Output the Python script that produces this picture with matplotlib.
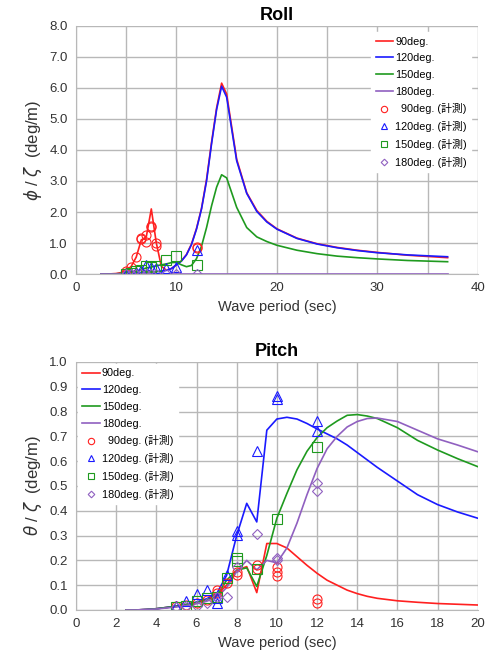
import matplotlib
matplotlib.use('Agg')
from matplotlib import pyplot as plt
from matplotlib.ticker import MultipleLocator, FormatStrFormatter

plt.rcParams['font.family'] = ['Liberation Sans', 'Noto Sans CJK JP', 'DejaVu Sans']

# ---- Roll: calculated curves ----
roll_t = [2.5, 3, 3.5, 4, 4.5, 5, 5.5, 6, 6.5, 7, 7.5, 8, 8.5, 9, 9.5, 10, 10.5, 11, 11.5,
          12, 12.5, 13, 13.5, 14, 14.5, 15, 16, 17, 18, 19, 20, 22, 24, 26, 28, 30, 33, 37]
roll_90 = [0.0, 0.0, 0.01, 0.02, 0.05, 0.12, 0.25, 0.55, 1.1, 1.2, 2.1, 1.0, 0.25, 0.13, 0.18,
           0.3, 0.43, 0.63, 0.97, 1.47, 2.12, 3.05, 4.25, 5.35, 6.15, 5.8, 3.7, 2.62, 2.05, 1.7,
           1.46, 1.16, 0.98, 0.86, 0.77, 0.7, 0.61, 0.53]
roll_120 = [0.0, 0.0, 0.005, 0.01, 0.015, 0.02, 0.03, 0.04, 0.05, 0.06, 0.07, 0.08, 0.1, 0.12, 0.18,
            0.3, 0.42, 0.62, 0.95, 1.45, 2.1, 3.0, 4.2, 5.3, 6.05, 5.7, 3.65, 2.6, 2.02, 1.68,
            1.45, 1.15, 0.97, 0.85, 0.76, 0.69, 0.62, 0.56]
roll_150 = [0.0, 0.0, 0.005, 0.01, 0.02, 0.04, 0.07, 0.1, 0.14, 0.2, 0.23, 0.27, 0.3, 0.33, 0.37,
            0.38, 0.3, 0.24, 0.28, 0.5, 0.9, 1.5, 2.2, 2.8, 3.2, 3.1, 2.15, 1.5, 1.2, 1.05,
            0.93, 0.77, 0.66, 0.58, 0.53, 0.49, 0.44, 0.4]
roll_180 = [0.0] * len(roll_t)

# ---- Roll: measured ----
roll_m90_t = [5, 5, 5.5, 6, 6.5, 6.5, 7, 7, 7.5, 7.5, 8, 8, 12, 12]
roll_m90 = [0.05, 0.1, 0.23, 0.56, 1.12, 1.15, 1.25, 1.05, 1.52, 1.55, 1.0, 0.92, 0.88, 0.85]
roll_m_t = [5, 5.5, 6, 6.5, 7, 7.5, 8, 9, 10, 12]
roll_m120 = [0.02, 0.04, 0.06, 0.12, 0.3, 0.24, 0.2, 0.2, 0.24, 0.78]
roll_m150 = [0.02, 0.05, 0.1, 0.12, 0.25, 0.22, 0.25, 0.47, 0.58, 0.28]
roll_m180 = [0.0, 0.0, 0.01, 0.01, 0.02, 0.01, 0.01, 0.0, 0.02, 0.0]

# ---- Pitch: calculated curves ----
pitch_t = [2.5, 3, 3.5, 4, 4.5, 5, 5.5, 6, 6.5, 7, 7.5, 8, 8.5, 9, 9.5, 10, 10.5, 11, 11.5,
           12, 12.5, 13, 13.5, 14, 14.5, 15, 16, 17, 18, 19, 20]
pitch_90 = [0.0, 0.0, 0.002, 0.005, 0.01, 0.015, 0.022, 0.03, 0.042, 0.06, 0.1, 0.16, 0.175,
            0.07, 0.268, 0.268, 0.25, 0.215, 0.18, 0.148, 0.12, 0.1, 0.08, 0.066, 0.055, 0.047,
            0.037, 0.031, 0.026, 0.023, 0.02]
pitch_120 = [0.0, 0.0, 0.002, 0.005, 0.01, 0.015, 0.022, 0.032, 0.045, 0.065, 0.14, 0.3, 0.43,
             0.355, 0.725, 0.77, 0.777, 0.77, 0.752, 0.73, 0.71, 0.69, 0.665, 0.635, 0.605,
             0.575, 0.52, 0.465, 0.425, 0.395, 0.37]
pitch_150 = [0.0, 0.0, 0.002, 0.005, 0.01, 0.015, 0.022, 0.03, 0.04, 0.055, 0.12, 0.16, 0.17,
             0.095, 0.22, 0.37, 0.47, 0.565, 0.64, 0.695, 0.735, 0.762, 0.785, 0.788, 0.782,
             0.772, 0.735, 0.684, 0.645, 0.61, 0.578]
pitch_180 = [0.0, 0.0, 0.002, 0.004, 0.008, 0.012, 0.018, 0.025, 0.035, 0.05, 0.09, 0.155,
             0.2, 0.162, 0.2, 0.19, 0.25, 0.35, 0.465, 0.57, 0.65, 0.7, 0.738, 0.76, 0.772,
             0.774, 0.76, 0.725, 0.69, 0.665, 0.638]

# ---- Pitch: measured ----
pitch_m90_t = [5, 5.5, 6, 6.5, 7, 7, 7.5, 8, 8, 9, 9, 10, 10, 10, 12, 12]
pitch_m90 = [0.015, 0.02, 0.03, 0.04, 0.08, 0.07, 0.11, 0.155, 0.14, 0.18, 0.165, 0.175,
             0.155, 0.135, 0.045, 0.03]
pitch_m120_t = [5, 5.5, 6, 6.5, 7, 7, 7.5, 8, 8, 9, 10, 10, 12, 12]
pitch_m120 = [0.015, 0.038, 0.066, 0.08, 0.047, 0.027, 0.143, 0.318, 0.304, 0.642, 0.864,
              0.849, 0.763, 0.723]
pitch_m150_t = [5, 5.5, 6, 6.5, 7, 7.5, 8, 8, 9, 10, 12]
pitch_m150 = [0.011, 0.016, 0.035, 0.047, 0.051, 0.128, 0.21, 0.196, 0.165, 0.365, 0.656]
pitch_m180_t = [5, 5.5, 6, 6.5, 7, 7.5, 8, 9, 10, 10, 12, 12]
pitch_m180 = [0.011, 0.014, 0.016, 0.027, 0.054, 0.054, 0.172, 0.308, 0.21, 0.2, 0.511, 0.481]

colors = {'90': '#ff2020', '120': '#1a1aff', '150': '#1f9a1f', '180': '#9060c0'}
grid_c = '#b8b8b8'
mk = dict(linestyle='none', markerfacecolor='none', markersize=6.5, markeredgewidth=0.8)


def style_axes(ax):
    for s in ['top', 'right']:
        ax.spines[s].set_visible(False)
    for s in ['left', 'bottom']:
        ax.spines[s].set_color(grid_c)
    ax.tick_params(which='both', length=0, labelsize=9.5, colors='#333333', pad=6)
    ax.grid(True, which='both', color=grid_c, linewidth=1.0)
    ax.set_axisbelow(True)
    ax.set_xlabel('Wave period (sec)', fontsize=10.5, color='#333333')


fig = plt.figure(figsize=(4.87, 6.59), dpi=100)

# Roll
ax1 = fig.add_axes([0.156, 0.584, 0.825, 0.377])
ax1.plot(roll_t, roll_90, color=colors['90'], lw=1.2, label='90deg.')
ax1.plot(roll_t, roll_120, color=colors['120'], lw=1.2, label='120deg.')
ax1.plot(roll_t, roll_150, color=colors['150'], lw=1.2, label='150deg.')
ax1.plot(roll_t, roll_180, color=colors['180'], lw=1.2, label='180deg.')
ax1.plot(roll_m90_t, roll_m90, marker='o', markeredgecolor=colors['90'], label='  90deg. (計測)', **mk)
ax1.plot(roll_m_t, roll_m120, marker='^', markeredgecolor=colors['120'], label='120deg. (計測)', **mk)
ax1.plot(roll_m_t, roll_m150, marker='s', markeredgecolor=colors['150'], label='150deg. (計測)', **mk)
ax1.plot(roll_m_t, roll_m180, marker='D', markeredgecolor=colors['180'], label='180deg. (計測)',
         **{**mk, 'markersize': 4.8})
ax1.set_xlim(0, 40)
ax1.set_ylim(0, 8)
ax1.xaxis.set_major_locator(MultipleLocator(10))
ax1.xaxis.set_minor_locator(MultipleLocator(5))
ax1.yaxis.set_major_locator(MultipleLocator(1))
ax1.yaxis.set_major_formatter(FormatStrFormatter('%.1f'))
style_axes(ax1)
ax1.set_ylabel(r'$\phi$ / $\zeta$  (deg/m)', fontsize=12, color='#333333')
ax1.set_title('Roll', fontsize=13, fontweight='bold', pad=4)
leg1 = ax1.legend(loc='upper right', fontsize=7.8, frameon=True, framealpha=1, edgecolor='white',
                  handlelength=1.6, handletextpad=0.2, borderaxespad=0.6, labelspacing=0.62,
                  fancybox=False, markerscale=0.7)

# Pitch
ax2 = fig.add_axes([0.156, 0.0744, 0.825, 0.3763])
ax2.plot(pitch_t, pitch_90, color=colors['90'], lw=1.2, label='90deg.')
ax2.plot(pitch_t, pitch_120, color=colors['120'], lw=1.2, label='120deg.')
ax2.plot(pitch_t, pitch_150, color=colors['150'], lw=1.2, label='150deg.')
ax2.plot(pitch_t, pitch_180, color=colors['180'], lw=1.2, label='180deg.')
ax2.plot(pitch_m90_t, pitch_m90, marker='o', markeredgecolor=colors['90'], label='  90deg. (計測)', **mk)
ax2.plot(pitch_m120_t, pitch_m120, marker='^', markeredgecolor=colors['120'], label='120deg. (計測)', **mk)
ax2.plot(pitch_m150_t, pitch_m150, marker='s', markeredgecolor=colors['150'], label='150deg. (計測)', **mk)
ax2.plot(pitch_m180_t, pitch_m180, marker='D', markeredgecolor=colors['180'], label='180deg. (計測)',
         **{**mk, 'markersize': 4.8})
ax2.set_xlim(0, 20)
ax2.set_ylim(0, 1.0)
ax2.xaxis.set_major_locator(MultipleLocator(2))
ax2.yaxis.set_major_locator(MultipleLocator(0.1))
ax2.yaxis.set_major_formatter(FormatStrFormatter('%.1f'))
style_axes(ax2)
ax2.set_ylabel(r'$\theta$ / $\zeta$  (deg/m)', fontsize=12, color='#333333')
ax2.set_title('Pitch', fontsize=13, fontweight='bold', pad=4)
leg2 = ax2.legend(loc='upper left', fontsize=7.8, frameon=True, framealpha=1, edgecolor='white',
                  handlelength=1.6, handletextpad=0.2, borderaxespad=0.2, labelspacing=0.62,
                  fancybox=False, markerscale=0.7)

fig.savefig('out.png', dpi=100)
